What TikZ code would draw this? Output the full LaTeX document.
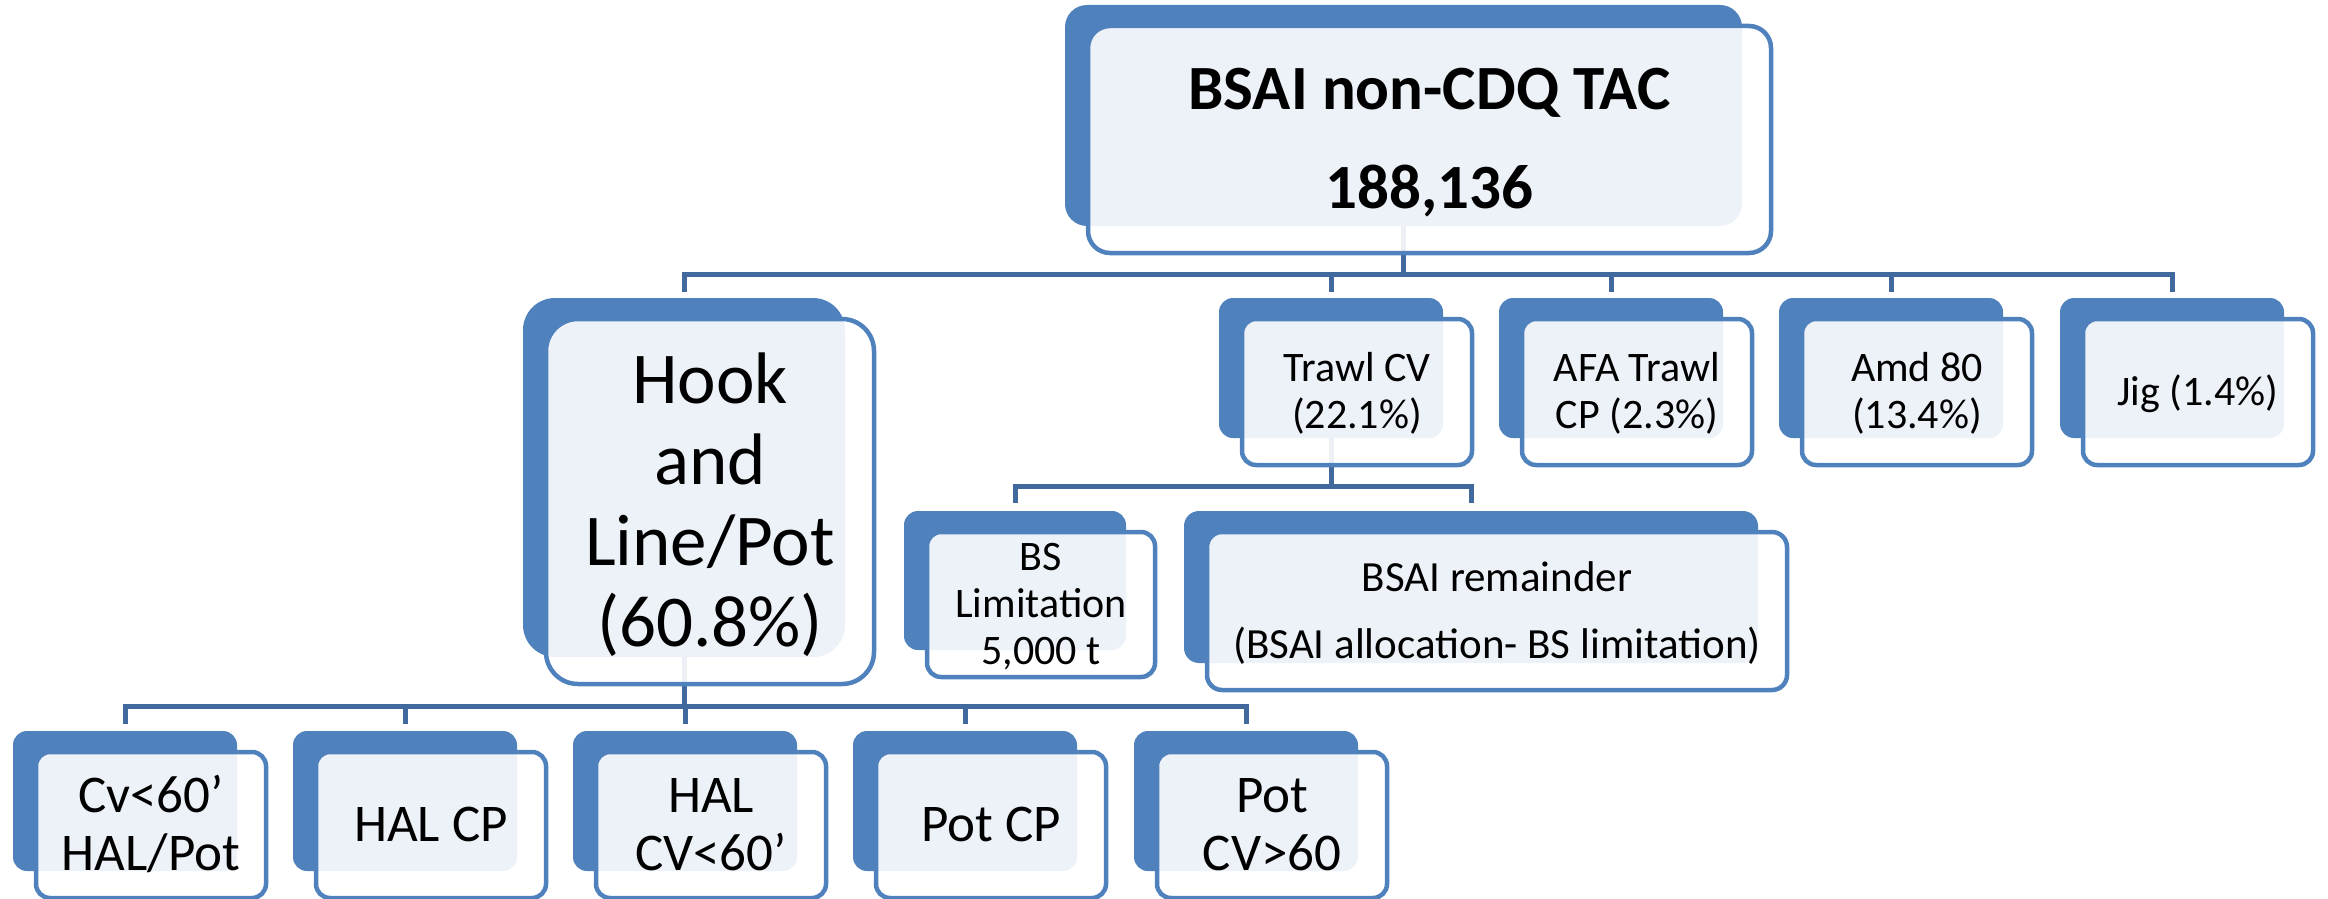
\documentclass[tikz,border=0pt]{standalone}
\usepackage{fontspec}
\setmainfont{Carlito}
\usetikzlibrary{backgrounds}
\definecolor{boxblue}{HTML}{4F81BD}
\definecolor{linkblue}{HTML}{41699D}
\tikzset{
  backbox/.style={fill=boxblue, draw=none, inner sep=0pt, outer sep=0pt},
  frontbox/.style={draw=boxblue, line width=4.5pt, fill=white, fill opacity=0.9,
    text opacity=1, text=black, inner sep=0pt, outer sep=0pt, align=center, text depth=0pt},
  link/.style={draw=linkblue, line width=5pt},
}
% #1 name, #2 x, #3 y, #4 width, #5 height (of the blue back plate, in px),
% #6 corner radius, #7 font, #8 text block height, #9 text
\newcommand\orgbox[9]{%
  \pgfmathsetmacro\fw{#4+6}%
  \pgfmathsetmacro\fh{#5+6}%
  \node[backbox, rounded corners=#6pt, minimum width=#4pt, minimum height=#5pt]
    (#1-b) at (#2+#4/2, #3+#5/2) {};
  \node[frontbox, rounded corners=#6pt, minimum width=\fw pt, minimum height=\fh pt,
    font=#7, text height=#8pt]
    (#1) at (#2+#4/2+26, #3+#5/2+24) {#9};
}
\begin{document}
\begin{tikzpicture}[x=1pt, y=-1pt]
\useasboundingbox (0,0) rectangle (2328,899);

% root
\orgbox{tac}{1065}{5}{677}{221}{22}{\fontsize{63}{99}\selectfont\bfseries}{138.8}{BSAI non-CDQ TAC\\188,136}

% second level
\orgbox{hook}{523}{298}{322}{359}{32}{\fontsize{73}{81}\selectfont}{289.1}{Hook\\and\\Line/Pot\\(60.8\%)}
\orgbox{trawl}{1219}{298}{224}{140}{14}{\fontsize{42}{47}\selectfont}{73.5}{Trawl CV\\(22.1\%)}
\orgbox{afa}{1499}{298}{224}{140}{14}{\fontsize{42}{47}\selectfont}{73.5}{AFA Trawl\\CP (2.3\%)}
\orgbox{amd}{1779}{298}{224}{140}{14}{\fontsize{42}{47}\selectfont}{73.5}{Amd 80\\(13.4\%)}
\orgbox{jig}{2060}{298}{224}{140}{14}{\fontsize{42}{47}\selectfont}{26.5}{Jig (1.4\%)}

% trawl CV split
\orgbox{bs}{904}{511}{222}{139}{14}{\fontsize{42}{47}\selectfont}{120.5}{BS\\Limitation\\5,000 t}
\orgbox{rem}{1184}{511}{574}{152}{15}{\fontsize{43}{67}\selectfont}{94.2}{BSAI remainder\\(BSAI allocation- BS limitation)}

% hook and line / pot split
\orgbox{cv}{13}{731}{224}{140}{14}{\fontsize{53}{58}\selectfont}{91.5}{Cv<60’\\HAL/Pot}
\orgbox{halcp}{293}{731}{224}{140}{14}{\fontsize{53}{58}\selectfont}{33.5}{HAL CP}
\orgbox{halcv}{573}{731}{224}{140}{14}{\fontsize{53}{58}\selectfont}{91.5}{HAL\\CV<60’}
\orgbox{potcp}{853}{731}{224}{140}{14}{\fontsize{53}{58}\selectfont}{33.5}{Pot CP}
\orgbox{potcv}{1134}{731}{224}{140}{14}{\fontsize{53}{58}\selectfont}{91.5}{Pot\\CV>60}

% connectors, behind the boxes
\begin{scope}[on background layer]
  \foreach \c in {hook,trawl,afa,amd,jig}
    \draw[link, shorten >=6pt] (tac-b.south) -- ++(0,48.5) -| (\c-b.north);
  \foreach \c in {bs,rem}
    \draw[link, shorten >=8pt] (trawl-b.south) -- ++(0,48) -| (\c-b.north);
  \foreach \c in {cv,halcp,halcv,potcp,potcv}
    \draw[link, shorten >=7pt] (hook-b.south) -- ++(0,49.5) -| (\c-b.north);
\end{scope}
\end{tikzpicture}
\end{document}
